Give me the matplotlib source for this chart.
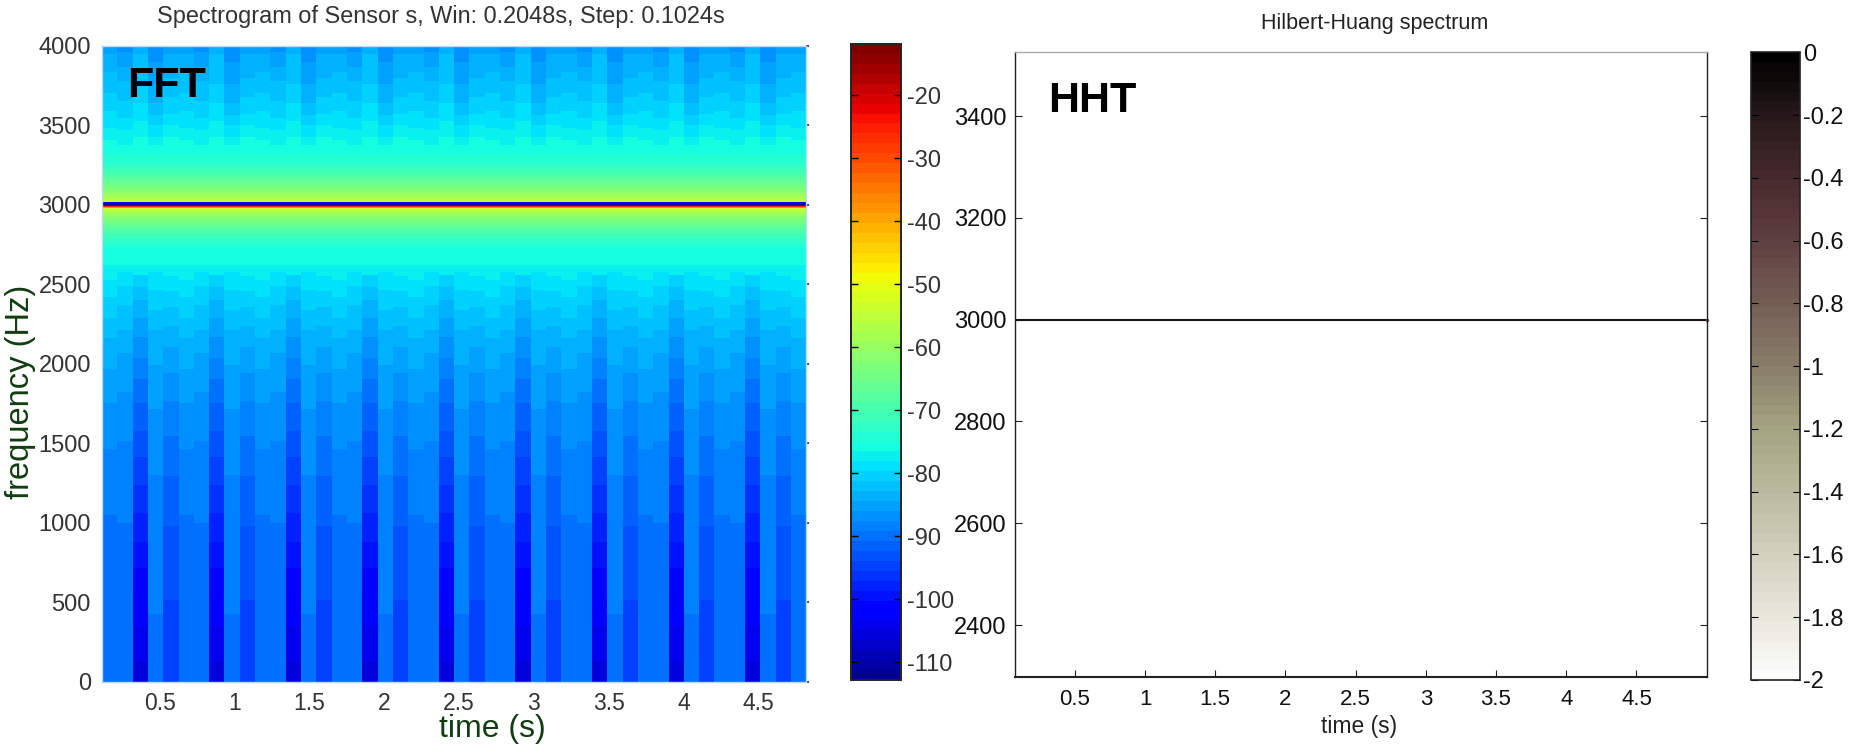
import numpy as np
import matplotlib
matplotlib.use("Agg")
import matplotlib.pyplot as plt
from matplotlib.colors import LinearSegmentedColormap, ListedColormap, Normalize
from matplotlib.cm import ScalarMappable

plt.rcParams['font.family'] = ['Liberation Sans', 'DejaVu Sans']
plt.rcParams['axes.unicode_minus'] = False

W, H = 1858, 747

# ---------- FFT spectrogram: colour bands ----------
# Columns repeat a five-step pattern in time; every list pair gives the lower
# frequency of a band (Hz) and its level (dB).
time_step_s = 0.1024
time_start_s = 0.112
n_columns = 46
column_start_phase = [0, 1, 2, 3, 4]

lower_edges_0 = [0, 1049, 1463, 1752, 1970, 2160, 2290, 2420, 2525]
lower_db_0 = [-89.9, -88.4, -86.8, -85.2, -83.6, -82.1, -80.5, -78.9, -77.3]
lower_edges_1 = [0, 1000, 1514, 1821, 2070, 2210, 2370, 2490, 2580]
lower_db_1 = [-89.9, -88.4, -86.8, -85.2, -83.6, -82.1, -80.5, -78.9, -77.3]
lower_edges_2 = [0, 126, 352, 541, 717, 880, 1063, 1239, 1415, 1579, 1755, 1906, 2035, 2170, 2289, 2402, 2484, 2560]
lower_db_2 = [-105.7, -104.1, -102.5, -101.0, -99.4, -97.8, -96.2, -94.7, -93.1, -91.5, -89.9, -88.4, -86.8, -85.2, -83.6, -82.1, -80.5, -77.3]
lower_edges_3 = [0, 427, 1300, 1714, 1990, 2210, 2340, 2465, 2580]
lower_db_3 = [-89.9, -88.4, -86.8, -85.2, -83.6, -82.1, -80.5, -78.9, -77.3]
lower_edges_4 = [0, 515, 980, 1293, 1545, 1764, 1940, 2105, 2240, 2355, 2460, 2550]
lower_db_4 = [-94.7, -93.1, -91.5, -89.9, -88.4, -86.8, -85.2, -83.6, -82.1, -80.5, -78.9, -77.3]

# Bands around the 3000 Hz tone, the same in every column
tone_edges = [2625, 2730, 2760, 2790, 2820, 2840, 2860, 2880, 2900, 2915, 2928, 2942, 2955, 2965, 2972,
              2978, 2983, 2989, 2995, 3000, 3006, 3016, 3020, 3030, 3045, 3060, 3075, 3095, 3115, 3135,
              3155, 3180, 3205, 3230, 3265, 3320]
tone_db = [-75.8, -74.2, -72.6, -71.0, -69.5, -67.9, -66.3, -64.7, -63.2, -61.6, -60.0, -58.4, -56.9, -55.3, -53.7,
           -50.6, -38.0, -25.3, -14.3, -110.4, -101.0, -82.1, -55.3, -56.9, -58.4, -60.0, -61.6, -63.2, -64.7, -66.3,
           -67.9, -69.5, -71.0, -72.6, -74.2, -75.8]

upper_edges_0 = [3410, 3484, 3588, 3703, 3839, 3950]
upper_db_0 = [-77.3, -78.9, -80.5, -82.1, -83.6, -85.2]
upper_edges_1 = [3380, 3470, 3550, 3655, 3780, 3865, 3960]
upper_db_1 = [-77.3, -78.9, -80.5, -82.1, -83.6, -85.2, -86.8]
upper_edges_2 = [3430, 3530, 3640, 3760, 3950]
upper_db_2 = [-77.3, -78.9, -80.5, -82.1, -83.6]
upper_edges_3 = [3380, 3430, 3505, 3568, 3640, 3760, 3900]
upper_db_3 = [-77.3, -78.9, -80.5, -82.1, -83.6, -85.2, -86.8]
upper_edges_4 = [3430, 3500, 3570, 3680, 3800, 3950]
upper_db_4 = [-77.3, -78.9, -80.5, -82.1, -83.6, -85.2]

fft_top_hz = 4000
fft_vmin, fft_vmax = -112.8, -11.9
fft_xticks = [0.5, 1, 1.5, 2, 2.5, 3, 3.5, 4, 4.5]
fft_xticklabels = ['0.5', '1', '1.5', '2', '2.5', '3', '3.5', '4', '4.5']
fft_yticks = [0, 500, 1000, 1500, 2000, 2500, 3000, 3500, 4000]
fft_cbar_ticks = [-110, -100, -90, -80, -70, -60, -50, -40, -30, -20]

# ---------- HHT ----------
hht_time = [0.074, 5.0]
hht_freq = [3000, 3000]
hht_xticks = fft_xticks
hht_xticklabels = fft_xticklabels
hht_yticks = [2400, 2600, 2800, 3000, 3200, 3400]
hht_ylim = (2299, 3525)
hht_cbar_ticks = [0, -0.2, -0.4, -0.6, -0.8, -1, -1.2, -1.4, -1.6, -1.8, -2]
hht_cbar_labels = ['0', '-0.2', '-0.4', '-0.6', '-0.8', '-1', '-1.2', '-1.4', '-1.6', '-1.8', '-2']


def rect(l, t, r, b):
    return [l / W, 1 - b / H, (r - l) / W, (b - t) / H]


fig = plt.figure(figsize=(W / 100, H / 100), dpi=100, facecolor='white')

# ---------- Left panel ----------
ax1 = fig.add_axes(rect(102, 46, 806, 681.7))
jet64 = ListedColormap(plt.get_cmap('jet')(np.arange(1, 65) / 64))
norm1 = Normalize(fft_vmin, fft_vmax)
phase_edges = [
    lower_edges_0 + tone_edges + upper_edges_0 + [fft_top_hz],
    lower_edges_1 + tone_edges + upper_edges_1 + [fft_top_hz],
    lower_edges_2 + tone_edges + upper_edges_2 + [fft_top_hz],
    lower_edges_3 + tone_edges + upper_edges_3 + [fft_top_hz],
    lower_edges_4 + tone_edges + upper_edges_4 + [fft_top_hz],
]
phase_db = [
    lower_db_0 + tone_db + upper_db_0,
    lower_db_1 + tone_db + upper_db_1,
    lower_db_2 + tone_db + upper_db_2,
    lower_db_3 + tone_db + upper_db_3,
    lower_db_4 + tone_db + upper_db_4,
]
for c in range(n_columns):
    p = column_start_phase[c % len(column_start_phase)]
    t0 = time_start_s + c * time_step_s
    ax1.pcolormesh([t0, t0 + time_step_s + 0.002], phase_edges[p],
                   np.array(phase_db[p])[:, None], cmap=jet64, norm=norm1,
                   shading='flat', linewidth=0, antialiased=False)
ax1.set_xlim(0.112, 4.82)
ax1.set_ylim(0, 4000)
ax1.set_xticks(fft_xticks, fft_xticklabels)
ax1.set_yticks(fft_yticks)
ax1.tick_params(axis='x', bottom=False, labelsize=16.5, labelcolor='#333333', pad=3.6)
ax1.tick_params(axis='y', left=False, right=True, labelleft=True, direction='out', length=2,
                width=1.2, labelsize=17, labelcolor='#333333', pad=6, color='#222222')
for s in ax1.spines.values():
    s.set_color('#b9d9ff')
    s.set_linewidth(1.0)
fig.text(127 / W, 1 - 97 / H, 'FFT', fontsize=31, fontweight='bold', color='black', va='baseline', ha='left')
fig.text(441 / W, 1 - 16 / H, 'Spectrogram of Sensor s, Win: 0.2048s, Step: 0.1024s', fontsize=16.9,
         color='#333333', ha='center', va='center')
fig.text(21 / W, 1 - 392 / H, 'frequency (Hz)', rotation=90, fontsize=23.5, color='#123c12',
         ha='center', va='center')
fig.text(492 / W, 1 - 729 / H, 'time (s)', fontsize=23, color='#123c12', ha='center', va='center')

cax1 = fig.add_axes(rect(851, 44, 901, 680))
cb1 = fig.colorbar(ScalarMappable(norm=norm1, cmap=jet64), cax=cax1, drawedges=False)
cb1.set_ticks(fft_cbar_ticks)
cax1.tick_params(axis='y', left=True, right=True, direction='in', length=5, width=1.0,
                 labelsize=17, labelcolor='#333333', pad=4, color='black')
cb1.outline.set_edgecolor('#222222')
cb1.outline.set_linewidth(1.4)

# ---------- Right panel ----------
ax2 = fig.add_axes(rect(1015, 52.4, 1707.5, 676.5))
hht_cmap = LinearSegmentedColormap.from_list('hht', [
    (0.0, '#fcfcfa'), (0.2, '#d0d0bc'), (0.4, '#a3a380'), (0.5, '#887d69'),
    (0.7, '#5f4141'), (0.75, '#553437'), (0.9, '#281919'), (1.0, '#000000')], N=64)
norm2 = Normalize(-2, 0)
ax2.plot(hht_time, hht_freq, color='#1a1410', linewidth=1.5, solid_capstyle='butt')
ax2.plot(hht_time[-1:], hht_freq[-1:], linestyle='none', marker='o', markersize=2.5,
         color='#6b4f4f', markeredgewidth=0, clip_on=False)
ax2.set_xlim(0.074, 5.006)
ax2.set_ylim(*hht_ylim)
ax2.set_xticks(hht_xticks, hht_xticklabels)
ax2.set_yticks(hht_yticks)
ax2.tick_params(axis='both', direction='in', length=5, width=0.8, color='#222222',
                labelsize=16, labelcolor='#111111')
ax2.tick_params(axis='x', pad=9)
ax2.tick_params(axis='y', right=True, pad=6, labelsize=17)
for s in ax2.spines.values():
    s.set_color('#222222')
    s.set_linewidth(1.0)
ax2.spines['top'].set_color('#aaaaaa')
ax2.spines['bottom'].set_linewidth(1.5)
fig.text(1048 / W, 1 - 112 / H, 'HHT', fontsize=31, fontweight='bold', color='black', va='baseline', ha='left')
fig.text(1375 / W, 1 - 24 / H, 'Hilbert-Huang spectrum', fontsize=15.5, color='#222222', ha='center', va='center')
fig.text(1359 / W, 1 - 727 / H, 'time (s)', fontsize=16.5, color='#222222', ha='center', va='center')

cax2 = fig.add_axes(rect(1751, 52.4, 1800.5, 680))
cb2 = fig.colorbar(ScalarMappable(norm=norm2, cmap=hht_cmap), cax=cax2, drawedges=False)
cb2.set_ticks(hht_cbar_ticks, labels=hht_cbar_labels)
cax2.tick_params(axis='y', left=True, right=True, direction='in', length=5, width=0.8,
                 labelsize=17, labelcolor='#111111', pad=2, color='black')
cb2.outline.set_edgecolor('#222222')
cb2.outline.set_linewidth(1.2)

fig.savefig('out.png', dpi=100, facecolor='white')
